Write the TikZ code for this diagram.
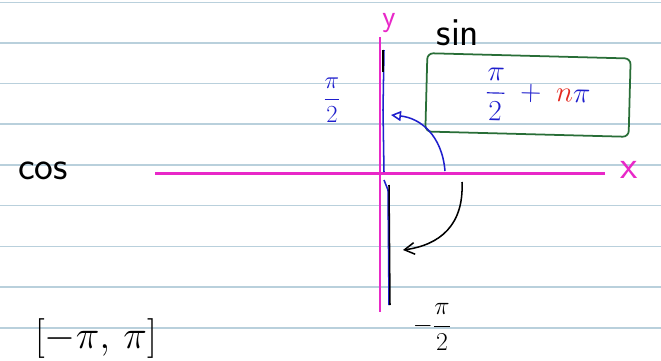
\RequirePackage{fix-cm}
\documentclass[tikz,border=0pt]{standalone}
\usepackage{amsmath}
\usepackage{xcolor}
\usepackage{tikz}
\usetikzlibrary{arrows.meta, positioning}

\definecolor{ruled}{RGB}{185,208,220}
\definecolor{axispink}{RGB}{232,40,200}
\definecolor{inkblue}{RGB}{30,30,205}
\definecolor{inkgreen}{RGB}{40,110,55}
\definecolor{inkred}{RGB}{228,40,30}

\begin{document}
\begin{tikzpicture}[
  x=0.03cm, y=-0.03cm,
  rule/.style={ruled, line width=0.9pt},
  pinkaxis/.style={draw=axispink, line width=1.8pt},
  hand/.style={font=\sffamily\fontsize{34}{36}\selectfont, inner sep=0pt},
  mlbl/.style={font=\fontsize{22}{24}\selectfont, inner sep=1pt},
  curve/.style={line width=1.3pt},
  blarr/.style={-{Triangle[open, length=3mm, width=3mm]}, draw=inkblue, line width=1.3pt},
  bkarr/.style={-{Straight Barb[length=3mm, width=3.5mm]}, line width=1.3pt}
]
  \fill[white] (0,0) rectangle (661,361);
  \useasboundingbox (0,0) rectangle (661,361);

  % ruled paper
  \foreach \yy in {2.7, 43, 83.5, 124, 165, 205.5, 246.5, 287, 328}
    \draw[rule] (0,\yy) -- (661,\yy);

  % axes
  \coordinate (xl) at (155,173.5);
  \coordinate (xr) at (605,173.5);
  \coordinate (yt) at (380,37);
  \coordinate (yb) at (380,312);
  \draw[pinkaxis] (xl) -- (xr);
  \draw[pinkaxis] (yt) -- (yb);
  \node[text=axispink, hand] (xlbl) at (629,170) {x};
  \node[text=axispink, hand, font=\sffamily\fontsize{26}{28}\selectfont] (ylbl) at (389,23) {y};

  % the two branches
  \draw[curve, inkblue] (384,50) -- (383,110) -- (384,172);
  \draw[curve] (383,50) -- (383,72);
  \draw[curve, inkblue] (384,180) -- (388,190) -- (389,305);
  \draw[curve] (389,185) -- (390,305);

  % labels
  \node[hand] (sinlbl) at (458,33) {sin};
  \node[hand] (coslbl) at (43,171) {cos};
  \node[mlbl, text=inkblue, font=\fontsize{21}{23}\selectfont] (pihalf) at (332,100) {$\dfrac{\pi}{2}$};
  \node[mlbl] (mpihalf) at (432,327) {$-\dfrac{\pi}{2}$};
  \node[mlbl, font=\fontsize{34}{36}\selectfont] (range) at (96,339) {$[-\pi,\,\pi]$};

  % boxed formula
  \node[draw=inkgreen, line width=1.5pt, rounded corners=5pt, rotate=-1.5,
        minimum width=6.1cm, minimum height=2.35cm, text=inkblue,
        font=\fontsize{25}{27}\selectfont] (period) at (528,95)
        {\hspace*{0.6cm}$\dfrac{\pi}{2}\;+\;{\color{inkred}n}\pi$};

  % arrows
  \coordinate (bstart) at (445,171);
  \coordinate (bend) at (391,115);
  \coordinate (kstart) at (462,182);
  \coordinate (kend) at (403,250);
  \draw[blarr] (bstart) .. controls (442,135) and (420,118) .. (bend);
  \draw[bkarr] (kstart) .. controls (464,225) and (440,245) .. (kend);
\end{tikzpicture}
\end{document}
